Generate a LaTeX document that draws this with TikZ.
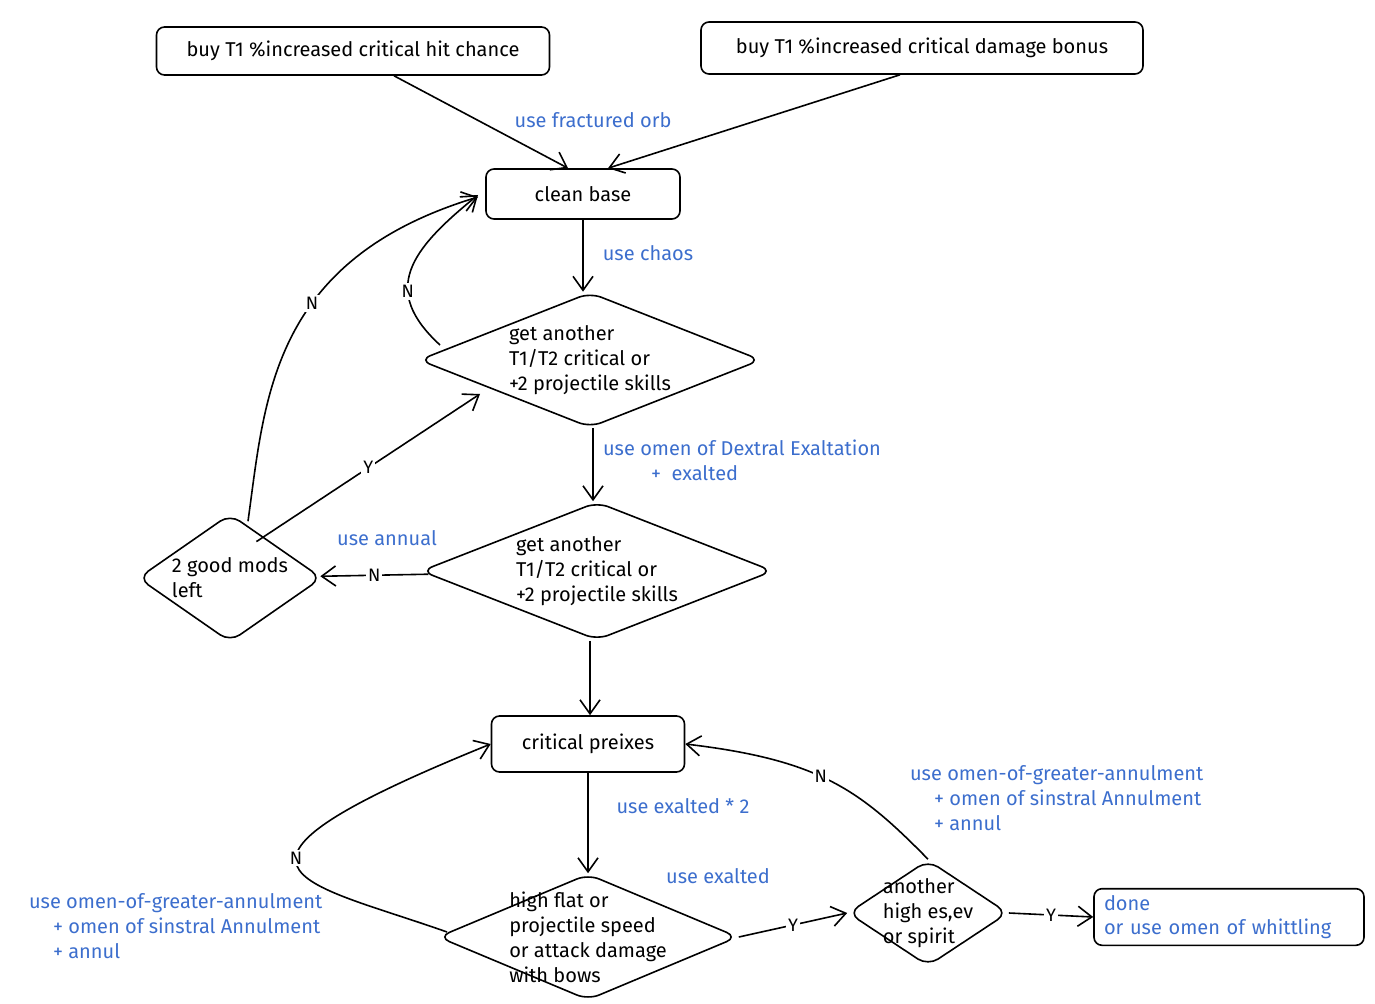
\documentclass[tikz,border=0pt]{standalone}
\usepackage{fontspec}
\setmainfont{Fira Sans}
\usetikzlibrary{shapes.geometric}
\definecolor{lblue}{RGB}{60,110,205}
\tikzset{
  box/.style={draw,rounded corners=4pt,thick,font=\fontsize{10}{12}\selectfont},
  dia/.style={draw,diamond,rounded corners=6pt,thick,inner sep=0pt,aspect=2.6,align=left,font=\fontsize{10}{12.5}\selectfont},
  lbl/.style={text=lblue,align=left,font=\fontsize{10}{12.5}\selectfont},
  yn/.style={fill=white,inner sep=1pt,font=\fontsize{9}{10}\selectfont},
  arr/.style={->,thick,>={Straight Barb[length=7pt,width=10pt]}}
}
\usetikzlibrary{arrows.meta}
\begin{document}
\begin{tikzpicture}[x=0.5pt,y=-0.5pt]
\useasboundingbox (0,0) rectangle (1375,1004);
%% boxes
\node (critchance) at (353,51) [box,minimum width=196.5pt,minimum height=24pt] {buy T1 \%increased critical hit chance};
\node (critdamage) at (922,48) [box,minimum width=221pt,minimum height=26pt] {buy T1 \%increased critical damage bonus};
\node (cleanbase) at (583,194) [box,minimum width=97pt,minimum height=25pt] {clean base};
\node (roll1) at (590,360) [dia,minimum width=171pt,minimum height=67.5pt] {get another\\T1/T2 critical or\\+2 projectile skills};
\node (roll2) at (597,571) [dia,minimum width=176pt,minimum height=69pt] {get another\\T1/T2 critical or\\+2 projectile skills};
\node (goodmods) at (230,578) [dia,minimum width=92pt,minimum height=64pt,inner sep=-4pt] {2 good mods\\left};
\node (prefixes) at (588,744) [box,minimum width=96.5pt,minimum height=28pt] {critical preixes};
\node (highflat) at (588,937) [dia,minimum width=150pt,minimum height=63pt,inner sep=-9pt] {high flat or\\projectile speed\\or attack damage\\with bows};
\node (highes) at (928,913) [dia,minimum width=80pt,minimum height=53pt,aspect=1.6,inner sep=-5pt] {another\\high es,ev\\or spirit};
\node (done) at (1229,917) [box,minimum width=135pt,minimum height=26pt,text=lblue,align=left,text width=125pt] {done\\or use omen of whittling};
%% labels
\node [lbl] at (593,120) {use fractured orb};
\node [lbl] at (648,253) {use chaos};
\node [lbl,anchor=north west] at (596,433) {use omen of Dextral Exaltation\\\hspace{24pt}+\ \ exalted};
\node [lbl] at (387,538) {use annual};
\node [lbl] at (683,806) {use exalted * 2};
\node [lbl] at (718,876) {use exalted};
\node [lbl,anchor=north west] at (22,886) {use omen-of-greater-annulment\\\hspace{12pt}+ omen of sinstral Annulment\\\hspace{12pt}+ annul};
\node [lbl,anchor=north west] at (903,758) {use omen-of-greater-annulment\\\hspace{12pt}+ omen of sinstral Annulment\\\hspace{12pt}+ annul};
%% connectors
\draw [arr] (critchance.south) ++(41,0) -- (cleanbase.north -| 568,0);
\draw [arr] (critdamage.south) ++(-22,0) -- (cleanbase.north -| 608,0);
\draw [arr] (cleanbase) -- (cleanbase |- roll1.north);
\draw [arr] (roll1.south) ++(3,0) -- (roll2.north -| 593,0);
\draw [arr] (roll2) -- node[yn]{N} (goodmods);
\draw [arr] (goodmods.north east) ++(-20,-4) -- node[yn,pos=.5]{Y} (480,394);
\draw [arr] (440,345) .. controls (380,290) and (410,250) .. node[yn,pos=.35]{N} (478,195);
\draw [arr] (goodmods.north) ++(18,8) .. controls (265,400) and (270,260) .. node[yn,pos=.6]{N} (478,197);
\draw [arr] (roll2.south) ++(-7,0) -- (prefixes.north -| 590,0);
\draw [arr] (prefixes) -- (prefixes |- highflat.north);
\draw [arr] (447,932) .. controls (300,880) and (180,870) .. node[yn,pos=.55]{N} (prefixes.west);
\draw [arr] (highflat.east) -- node[yn]{Y} (highes.west);
\draw [arr] (highes.north) .. controls (860,790) and (820,760) .. node[yn,pos=.55]{N} (prefixes.east);
\draw [arr] (highes.east) -- node[yn]{Y} (done.west);
%
\end{tikzpicture}
\end{document}
